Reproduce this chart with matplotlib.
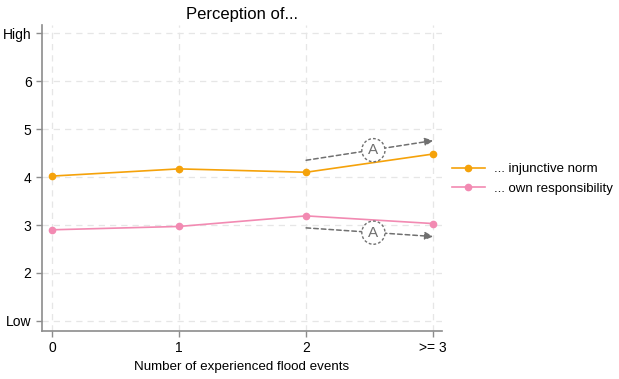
import matplotlib
matplotlib.use("Agg")
import matplotlib.pyplot as plt

plt.rcParams['font.family'] = ['Liberation Sans', 'DejaVu Sans']

x_labels = ["0", "1", "2", ">= 3"]
x_pos = [0, 1, 2, 3]
injunctive = [4.02, 4.17, 4.10, 4.48]
own_resp = [2.90, 2.97, 3.19, 3.03]
y_ticks = [1, 2, 3, 4, 5, 6, 7]
y_labels = ["Low", "2", "3", "4", "5", "6", "High"]

orange = "#F5A20A"
pink = "#F28AB2"

fig = plt.figure(figsize=(6.19, 3.79), dpi=100)
ax = fig.add_axes([42/619, 1-331/379, 400/619, 306/379])

ax.plot(x_pos, injunctive, color=orange, marker='o', ms=4.5, lw=1.2, label="... injunctive norm")
ax.plot(x_pos, own_resp, color=pink, marker='o', ms=4.5, lw=1.2, label="... own responsibility")

ax.set_xlim(-0.079, 3.07)
ax.set_ylim(0.79, 7.17)
ax.set_xticks(x_pos)
ax.set_xticklabels(x_labels)
ax.set_yticks(y_ticks)
ax.set_yticklabels(y_labels)
ax.grid(True, color="#e6e6e6", ls=(0, (5, 4)), lw=0.9)
ax.set_axisbelow(True)
for s in ["top", "right"]:
    ax.spines[s].set_visible(False)
for s in ["left", "bottom"]:
    ax.spines[s].set_color("#8c8c8c")
    ax.spines[s].set_linewidth(1.2)
ax.tick_params(colors="#8c8c8c", labelcolor="black", labelsize=10, length=4, width=1)
ax.set_xlabel("Number of experienced flood events", fontsize=9.6, labelpad=4)
ax.set_title("Perception of...", fontsize=12, pad=4)

# annotations
def arrow(y0, y1):
    ax.annotate("", xy=(3.0, y1), xytext=(2.0, y0),
                arrowprops=dict(arrowstyle="-|>", color="#707070", lw=1.1,
                                ls=(0, (3, 2)), mutation_scale=12,
                                shrinkA=0, shrinkB=0))

arrow(4.35, 4.76)
arrow(2.94, 2.76)
for xc, yc in [(2.53, 4.56), (2.53, 2.84)]:
    ax.text(xc, yc, "A", ha="center", va="center", fontsize=11, color="#707070",
            bbox=dict(boxstyle="circle,pad=0.3", fc="white", ec="#707070", ls=(0, (2, 1.5)), lw=1))

ax.legend(loc="upper left", bbox_to_anchor=(452/619, 1-163/379), bbox_transform=fig.transFigure,
          frameon=False, fontsize=9.5, handlelength=2.5, handletextpad=0.7,
          labelspacing=0.55, borderpad=0, borderaxespad=0)

fig.savefig("out.png", dpi=100)
